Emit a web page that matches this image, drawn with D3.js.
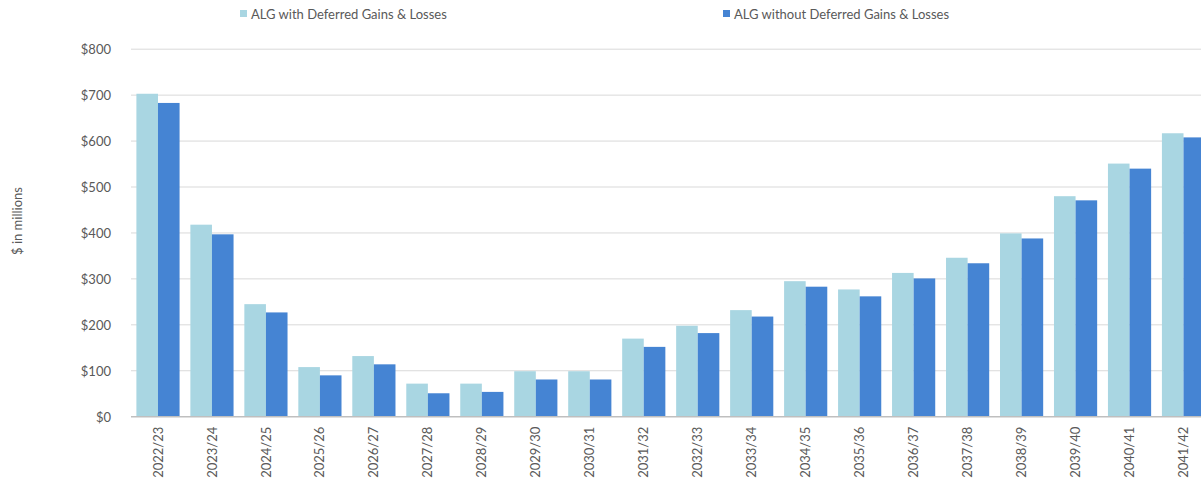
<!DOCTYPE html>
<html><head><meta charset="utf-8">
<script src="https://cdn.jsdelivr.net/npm/d3@7"></script>
<style>body{margin:0;background:#fff;overflow:hidden}</style>
</head><body><svg id="c" width="1201" height="487"></svg>
<script>
const categories = ["2022/23","2023/24","2024/25","2025/26","2026/27","2027/28","2028/29","2029/30","2030/31","2031/32","2032/33","2033/34","2034/35","2035/36","2036/37","2037/38","2038/39","2039/40","2040/41","2041/42"];
const withDeferred = [703,418,245,108,132,72,72,99,99,170,198,232,295,277,313,346,399,480,551,617];
const withoutDeferred = [683,397,227,90,114,51,54,81,81,152,182,218,283,262,301,334,388,471,540,608];
const seriesNames = ["ALG with Deferred Gains & Losses","ALG without Deferred Gains & Losses"];
const yTicks = [0,100,200,300,400,500,600,700,800];
const colors = ["#a9d6e2","#4584d3"];

const svg = d3.select("#c");
const font = "Lato, 'Open Sans', sans-serif";
const mLeft = 131, mRight = 1210.5, mTop = 49.2, mBottom = 416.7;
const x = d3.scaleBand().domain(categories).range([mLeft, mRight]).paddingInner(0.2).paddingOuter(0.1);
const xs = d3.scaleBand().domain([0,1]).range([0, x.bandwidth()]);
const y = d3.scaleLinear().domain([0,800]).range([mBottom, mTop]);

// gridlines
svg.append("g").selectAll("line").data(yTicks.filter(d=>d>0)).join("line")
  .attr("x1", mLeft).attr("x2", 1201).attr("y1", d=>y(d)).attr("y2", d=>y(d))
  .attr("stroke", "#d9d9d9").attr("stroke-width", 1);

// y labels
const yAxis = d3.axisLeft(y).tickValues(yTicks).tickSize(0).tickPadding(0).tickFormat(d=>"$"+d);
const ya = svg.append("g").attr("transform", `translate(${mLeft-20},0)`).call(yAxis);
ya.select(".domain").remove();
ya.selectAll("text").attr("font-family", font).attr("font-size", 13).attr("fill", "#595959").attr("dy","0.35em");

// bars
const series = [withDeferred, withoutDeferred];
series.forEach((vals, si) => {
  svg.append("g").selectAll("rect").data(categories).join("rect")
    .attr("x", (c) => x(c) + xs(si))
    .attr("width", xs.bandwidth())
    .attr("y", (c,i) => y(vals[i]))
    .attr("height", (c,i) => y(0) - y(vals[i]))
    .attr("fill", colors[si]);
});

// x axis
const xAxis = d3.axisBottom(x).tickSize(0).tickPadding(0);
const xa = svg.append("g").attr("transform", `translate(0,${mBottom})`).call(xAxis);
xa.select(".domain").attr("stroke", "#bfbfbf").attr("stroke-width", 1.5).attr("d", `M${mLeft},0H1201`);
xa.selectAll("text").attr("font-family", font).attr("font-size", 13).attr("fill", "#595959")
  .attr("transform", "rotate(-90)").attr("text-anchor", "end").attr("x", -10).attr("y", 0).attr("dy", "0.35em");

// y title
svg.append("text").attr("transform", "translate(22,221) rotate(-90)")
  .attr("text-anchor", "middle").attr("font-family", font).attr("font-size", 13).attr("fill", "#595959")
  .text("$ in millions");

// legend
const legendX = [240, 723];
seriesNames.forEach((n, i) => {
  const g = svg.append("g").attr("transform", `translate(${legendX[i]},0)`);
  g.append("rect").attr("x", 0).attr("y", 10).attr("width", 7).attr("height", 7).attr("fill", colors[i]);
  g.append("text").attr("x", 11).attr("y", 19).attr("font-family", font).attr("font-size", 13).attr("fill", "#595959").text(n);
});
</script></body></html>
